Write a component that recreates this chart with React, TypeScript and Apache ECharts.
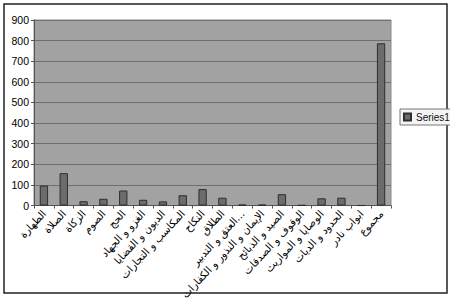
import React, { useEffect, useRef } from "react";
import * as echarts from "echarts";

const categories = [
  "الطهارة",
  "الصلاة",
  "الزكاة",
  "الصوم",
  "الحج",
  "الغزو و الجهاد",
  "الديون و القضايا",
  "المكاسب و التجارات",
  "النكاح",
  "الطلاق",
  "العتق و التدبير...",
  "الإيمان و النذور و الكفارات",
  "الصيد و الذبائح",
  "الوقوف و الصدقات",
  "الوصايا و المواريث",
  "الحدود و الديات",
  "ابواب نادر",
  "مجموع",
];

const series1 = [97, 157, 21, 33, 73, 28, 20, 50, 80, 38, 5, 5, 55, 2, 35, 38, 1, 787];

const seriesName = "Series1";

export default function App() {
  const ref = useRef<HTMLDivElement>(null);
  useEffect(() => {
    document.body.style.margin = "0";
    const chart = echarts.init(ref.current!, null, { renderer: "svg" });
    const font = "'Liberation Sans', Arial, 'DejaVu Sans', sans-serif";
    chart.setOption({
      animation: false,
      backgroundColor: "#ffffff",
      textStyle: { fontFamily: font },
      graphic: [
        {
          type: "rect",
          shape: { x: 4, y: 4, width: 443, height: 289 },
          style: { fill: "none", stroke: "#222", lineWidth: 1.5 },
          silent: true,
          z: -1,
        },
      ],
      legend: {
        show: true,
        orient: "vertical",
        left: 400,
        top: 109,
        itemWidth: 7,
        itemHeight: 7,
        itemGap: 4,
        padding: [3, 3, 3, 3],
        borderColor: "#777",
        borderWidth: 1,
        backgroundColor: "#f4f4f4",
        textStyle: { fontSize: 10, color: "#111", fontFamily: font },
        data: [{ name: seriesName, icon: "rect" }],
      },
      grid: {
        left: 34,
        right: 59,
        top: 20,
        bottom: 96,
        show: true,
        backgroundColor: "#a2a2a2",
        borderColor: "#8a8a8a",
        borderWidth: 1,
      },
      xAxis: {
        type: "category",
        data: categories,
        boundaryGap: true,
        axisLine: { show: true, lineStyle: { color: "#555", width: 1 } },
        axisTick: { show: true, alignWithLabel: false, length: 3, lineStyle: { color: "#555" } },
        axisLabel: {
          interval: 0,
          rotate: 47,
          fontSize: 10.5,
          color: "#000",
          margin: 6,
          fontFamily: "'DejaVu Sans', sans-serif",
        },
      },
      yAxis: {
        type: "value",
        min: 0,
        max: 900,
        interval: 100,
        axisLine: { show: true, lineStyle: { color: "#555" } },
        axisTick: { show: true, length: 3, lineStyle: { color: "#555" } },
        axisLabel: { fontSize: 10.5, color: "#000", margin: 5 },
        splitLine: { show: true, lineStyle: { color: "#6f6f6f", width: 1 } },
      },
      series: [
        {
          name: seriesName,
          type: "bar",
          data: series1,
          barWidth: "42%",
          itemStyle: { color: "#6c6c6c", borderColor: "#2e2e2e", borderWidth: 1 },
        },
      ],
    });
    return () => chart.dispose();
  }, []);
  return <div ref={ref} style={{ width: 450, height: 302 }} />;
}
